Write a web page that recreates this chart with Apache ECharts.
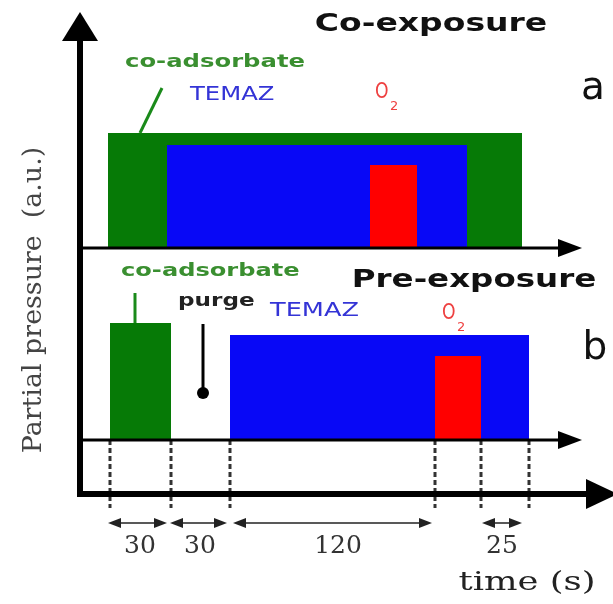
<!DOCTYPE html>
<html>
<head>
<meta charset="utf-8">
<script src="https://cdn.jsdelivr.net/npm/echarts@6/dist/echarts.min.js"></script>
<style>html,body{margin:0;padding:0;background:#fff}#c{width:613px;height:604px}</style>
</head>
<body>
<div id="c"></div>
<script>
// ---- schematic data (x: schematic time position, y: partial pressure a.u.) ----
const species = ['co-adsorbate', 'TEMAZ', 'O'];
const panelAStart = [28, 87, 290];
const panelAEnd = [442, 387, 337];
const panelAHeight = [115, 103, 83];
const panelABase = 246;
const panelBStart = [30, 150, 355];
const panelBEnd = [91, 449, 401];
const panelBHeight = [117, 105, 84];
const panelBBase = 54;
const stepBoundaries = [30, 91, 150, 355, 401, 449];
const durationLabels = ['30', '30', '120', '25'];
const durationFrom = [28, 90, 153, 402];
const durationTo = [87, 147, 352, 442];
const durationLabelX = [60, 120, 258, 422];
const xRange = [-80, 533];
const yRange = [-110, 482];
const axisEnd = 502;
const mainAxisEnd = 538;

const speciesColors = ['#067a06', '#0808f6', '#ff0000'];

const rectData = [];
for (let i = 0; i < species.length; i++) rectData.push([panelAStart[i], panelAEnd[i], panelABase, panelAHeight[i], i]);
for (let i = 0; i < species.length; i++) rectData.push([panelBStart[i], panelBEnd[i], panelBBase, panelBHeight[i], i]);

// axes: [x0,y0,x1,y1,kind]
const axisData = [
  [0, 0, 0, yRange[1], 0],
  [0, 0, mainAxisEnd, 0, 2],
  [0, panelABase, axisEnd, panelABase, 1],
  [0, panelBBase, axisEnd, panelBBase, 1]
];
const guideData = stepBoundaries.map(x => [x, panelBBase, x, -14]);
const durData = durationLabels.map((t, i) => [durationFrom[i], durationTo[i], -29, i]);

// annotation texts
const SANS = '"DejaVu Sans"';
const texts = [
  {t: 'Co-exposure', x: 351, y: 470, font: 'bold 25px ' + SANS, c: '#111', a: 'center', sx: 1.32},
  {t: 'a', x: 513, y: 405, font: '39px ' + SANS, c: '#111', a: 'center', sx: 1},
  {t: species[0], x: 45, y: 432, font: 'bold 18px ' + SANS, c: '#3a8f30', a: 'left', sx: 1.35},
  {t: species[1], x: 110, y: 399, font: '19px ' + SANS, c: '#3434d6', a: 'left', sx: 1.28},
  {t: species[2], x: 295, y: 401, font: '21px ' + SANS, c: '#ee4040', a: 'left', sx: 0.82},
  {t: '2', x: 310, y: 387, font: '13px ' + SANS, c: '#ee4040', a: 'left', sx: 1},
  {t: 'Pre-exposure', x: 394, y: 214, font: 'bold 25px ' + SANS, c: '#111', a: 'center', sx: 1.3},
  {t: 'b', x: 515, y: 145, font: '39px ' + SANS, c: '#111', a: 'center', sx: 1},
  {t: species[0], x: 41, y: 223, font: 'bold 18px ' + SANS, c: '#3a8f30', a: 'left', sx: 1.34},
  {t: 'purge', x: 98, y: 192, font: 'bold 17px ' + SANS, c: '#222', a: 'left', sx: 1.36},
  {t: species[1], x: 190, y: 183, font: '19px ' + SANS, c: '#3434d6', a: 'left', sx: 1.35},
  {t: species[2], x: 362, y: 180, font: '21px ' + SANS, c: '#ee4040', a: 'left', sx: 0.82},
  {t: '2', x: 377, y: 166, font: '13px ' + SANS, c: '#ee4040', a: 'left', sx: 1},
  {t: 'time (s)', x: 447, y: -89, font: '26px "DejaVu Serif"', c: '#222', a: 'center', sx: 1.36}
];
const yTitle = {t: 'Partial pressure  (a.u.)', x: -46, y: 194};
// leader lines: [x0,y0,x1,y1,colorIdx,dot]
const leaderData = [
  [60, 361, 82, 406, 0, 0],
  [55, 171, 55, 201, 0, 0],
  [123, 170, 123, 101, 3, 1]
];

const chart = echarts.init(document.getElementById('c'), null, {renderer: 'canvas'});

function arrowHead(tip, from, len, hw, color) {
  const dx = tip[0] - from[0], dy = tip[1] - from[1];
  const L = Math.sqrt(dx * dx + dy * dy);
  const ux = dx / L, uy = dy / L;
  const bx = tip[0] - ux * len, by = tip[1] - uy * len;
  return {type: 'polygon', shape: {points: [tip, [bx - uy * hw, by + ux * hw], [bx + uy * hw, by - ux * hw]]}, style: {fill: color}};
}
const axisStyles = [
  {len: 29, hw: 18, lw: 6},
  {len: 24, hw: 9, lw: 3},
  {len: 32, hw: 15, lw: 6}
];

chart.setOption({
  animation: false,
  backgroundColor: '#fff',
  grid: {left: 0, right: 0, top: 12, bottom: 0},
  xAxis: {type: 'value', min: xRange[0], max: xRange[1], show: false},
  yAxis: {type: 'value', min: yRange[0], max: yRange[1], show: false},
  series: [
    {
      type: 'custom', name: 'rects', data: rectData, z: 2,
      renderItem: (p, api) => {
        const a = api.coord([api.value(0), api.value(2) + api.value(3)]);
        const b = api.coord([api.value(1), api.value(2)]);
        return {type: 'rect', shape: {x: a[0], y: a[1], width: b[0] - a[0], height: b[1] - a[1]}, style: {fill: speciesColors[api.value(4)]}};
      }
    },
    {
      type: 'custom', name: 'axes', data: axisData, z: 3,
      renderItem: (p, api) => {
        const s = api.coord([api.value(0), api.value(1)]);
        const e = api.coord([api.value(2), api.value(3)]);
        const st = axisStyles[api.value(4)];
        const dx = e[0] - s[0], dy = e[1] - s[1];
        const L = Math.sqrt(dx * dx + dy * dy);
        const le = [e[0] - dx / L * (st.len - 2), e[1] - dy / L * (st.len - 2)];
        const ext = api.value(4) === 1 ? 0 : st.lw / 2;
        const ss = [s[0] - dx / L * ext, s[1] - dy / L * ext];
        return {type: 'group', children: [
          {type: 'line', shape: {x1: ss[0], y1: ss[1], x2: le[0], y2: le[1]}, style: {stroke: '#000', lineWidth: st.lw}},
          arrowHead(e, s, st.len, st.hw, '#000')
        ]};
      }
    },
    {
      type: 'custom', name: 'guides', data: guideData, z: 1,
      renderItem: (p, api) => {
        const s = api.coord([api.value(0), api.value(1)]);
        const e = api.coord([api.value(2), api.value(3)]);
        return {type: 'line', shape: {x1: s[0], y1: s[1], x2: e[0], y2: e[1]}, style: {stroke: '#333', lineWidth: 3, lineDash: [5, 3]}};
      }
    },
    {
      type: 'custom', name: 'durations', data: durData, z: 3,
      renderItem: (p, api) => {
        const s = api.coord([api.value(0), api.value(2)]);
        const e = api.coord([api.value(1), api.value(2)]);
        const idx = api.value(3);
        const lab = api.coord([durationLabelX[idx], api.value(2) - 23]);
        return {type: 'group', children: [
          {type: 'line', shape: {x1: s[0] + 6, y1: s[1], x2: e[0] - 6, y2: e[1]}, style: {stroke: '#222', lineWidth: 1.5}},
          arrowHead(e, s, 13, 5, '#222'),
          arrowHead(s, e, 13, 5, '#222'),
          {type: 'text', x: lab[0], y: lab[1], style: {text: durationLabels[idx], font: '25px "DejaVu Serif"', fill: '#333', align: 'center', verticalAlign: 'middle'}}
        ]};
      }
    },
    {
      type: 'custom', name: 'leaders', data: leaderData, z: 3,
      renderItem: (p, api) => {
        const s = api.coord([api.value(0), api.value(1)]);
        const e = api.coord([api.value(2), api.value(3)]);
        const col = api.value(4) === 0 ? '#1a8a1a' : '#000';
        const ch = [{type: 'line', shape: {x1: s[0], y1: s[1], x2: e[0], y2: e[1]}, style: {stroke: col, lineWidth: 3}}];
        if (api.value(5)) ch.push({type: 'circle', shape: {cx: e[0], cy: e[1], r: 6}, style: {fill: '#000'}});
        return {type: 'group', children: ch};
      }
    },
    {
      type: 'custom', name: 'texts', data: texts.map((t, i) => [t.x, t.y, i]), z: 4,
      renderItem: (p, api) => {
        const t = texts[api.value(2)];
        const pt = api.coord([api.value(0), api.value(1)]);
        return {type: 'text', x: pt[0], y: pt[1], scaleX: t.sx, style: {text: t.t, font: t.font, fill: t.c, align: t.a, verticalAlign: 'middle'}};
      }
    },
    {
      type: 'custom', name: 'ytitle', data: [[yTitle.x, yTitle.y]], z: 4,
      renderItem: (p, api) => {
        const pt = api.coord([api.value(0), api.value(1)]);
        return {type: 'text', x: pt[0], y: pt[1], rotation: Math.PI / 2, scaleX: 1.12, scaleY: 1.1, style: {text: yTitle.t, font: '24px "DejaVu Serif"', fill: '#444', align: 'center', verticalAlign: 'middle'}};
      }
    }
  ]
});
</script>
</body>
</html>
